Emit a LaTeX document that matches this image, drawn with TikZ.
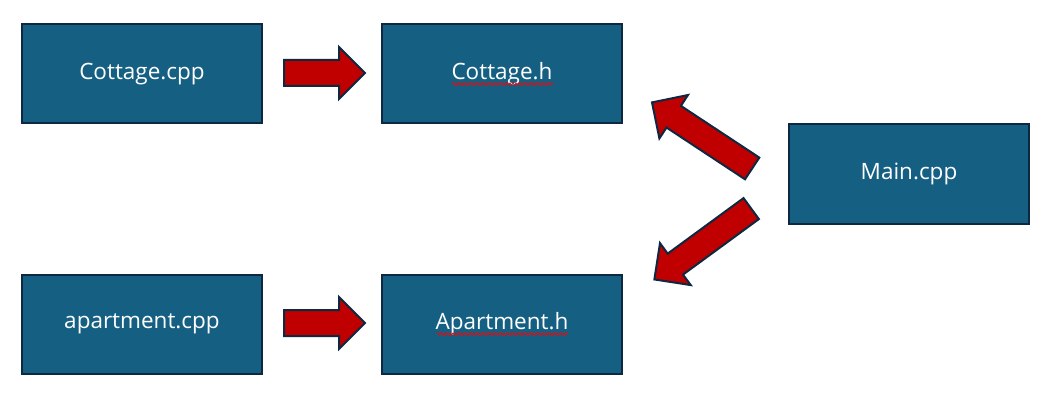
\documentclass[tikz,border=0pt]{standalone}
\usepackage{fontspec}
\setmainfont{Open Sans}
\usetikzlibrary{shapes.arrows,decorations.pathmorphing}

\definecolor{boxblue}{HTML}{156082}
\definecolor{boxline}{HTML}{0E2841}
\definecolor{arrowred}{HTML}{C00000}

\tikzset{
  filebox/.style={draw=boxline, line width=2pt, fill=boxblue, text=white,
    minimum width=240pt, minimum height=99pt, inner sep=0pt,
    font=\fontsize{22.5}{25}\selectfont},
  blockarrow/.style={single arrow, draw=boxline, line width=2pt, fill=arrowred,
    minimum height=81pt, minimum width=50pt, single arrow head extend=13pt,
    inner xsep=0pt, inner ysep=12pt, anchor=tail},
  spellmark/.style={red, line width=0.8pt, decorate,
    decoration={snake, amplitude=1pt, segment length=3pt}}
}

\begin{document}
\begin{tikzpicture}[x=1pt, y=-1pt]
  \useasboundingbox (0,0) rectangle (1048,414);

  % File boxes
  \node[filebox] (cottagecpp) at (142,74)  {Cottage.cpp};
  \node[filebox] (cottageh)   at (502,74)  {Cottage.h};
  \node[filebox] (maincpp)    at (909,174) {Main.cpp};
  \node[filebox] (aptcpp)     at (142,324) {apartment.cpp};
  \node[filebox] (apth)       at (502,324) {Apartment.h};

  % Block arrows (placed by their tails)
  \node[blockarrow] (cpp2h)  at (283,73)  {};
  \node[blockarrow] (apt2h)  at (283,323) {};
  \node[blockarrow, minimum height=120pt, rotate=146.6] (main2cot) at (753,169) {};
  \node[blockarrow, minimum height=120pt, rotate=216.2] (main2apt) at (752,208) {};

  % Spell-check marks
  \draw[spellmark] (452,84) -- (553,84);
  \draw[spellmark] (437,334) -- (568,334);
\end{tikzpicture}
\end{document}
